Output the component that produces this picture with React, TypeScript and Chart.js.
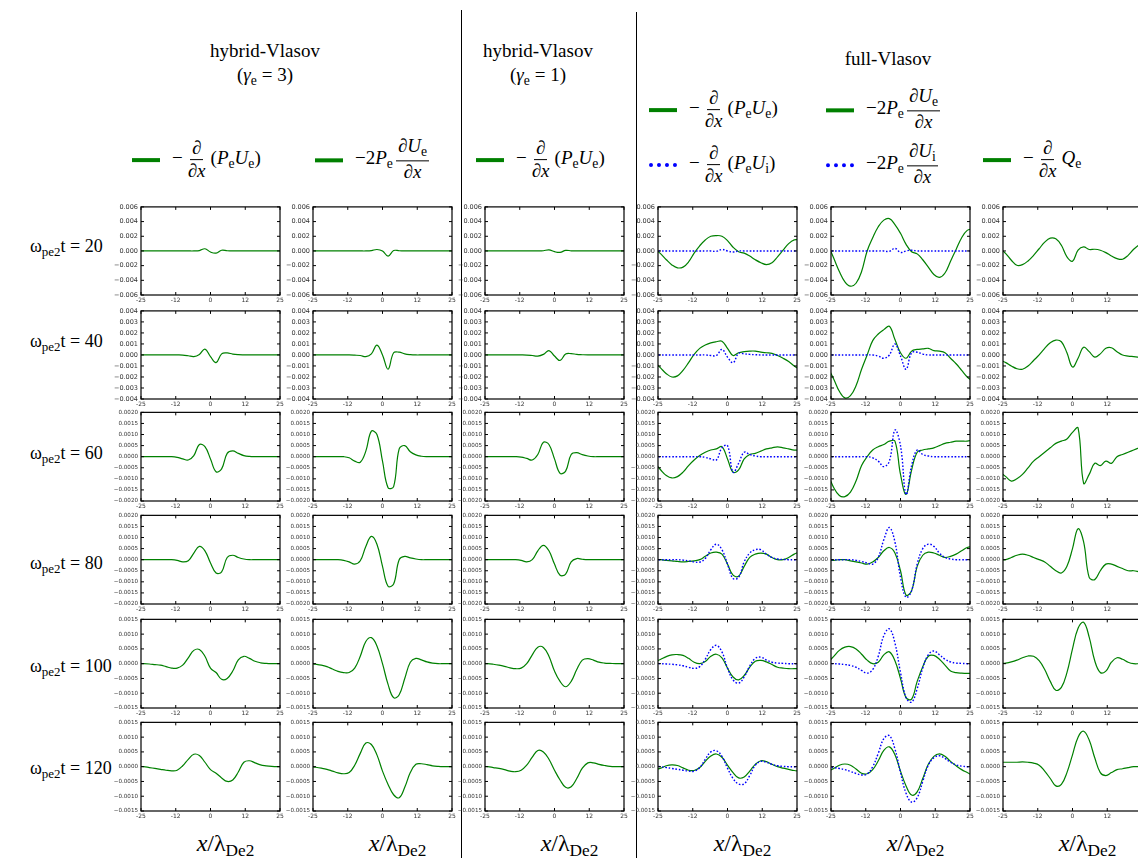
import React, { useEffect, useRef } from "react";
import { Chart, registerables } from "chart.js";

Chart.register(...registerables);

// ---------- data (x in λDe2, values in units of 1e-4) ----------
const X_GRID = [-26,-24,-22,-20,-18,-16,-14,-12,-10,-8,-6,-4,-2,0,2,4,6,8,10,12,14,16,18,20,22,24,26];
const X_TICKS = [-25, -12.5, 0, 12.5, 25];
const X_TICK_LABELS = ["-25", "-12", "0", "12", "25"];
const TIMES = ["20", "40", "60", "80", "100", "120"];
const Y_LIMITS = [60, 40, 20, 20, 15, 15];
const Y_STEPS = [20, 10, 5, 5, 5, 5];
const Y_DECIMALS = [3, 3, 4, 4, 4, 4];

// t = 20
const C1_T20 = [0,0,0,0,0,0,0,0,0,0,0,0.5,3,-1.5,-3,1,0.3,0,0,0,0,0,0,0,0,0,0];
const C2_T20 = [0,0,0,0,0,0,0,0,0,0,0,0.5,2,0,-7,0.5,0.3,0,0,0,0,0,0,0,0,0,0];
const C3_T20 = [0,0,0,0,0,0,0,0,0,0,0,0.3,1.5,-1,-2,0.8,0.2,0,0,0,0,0,0,0,0,0,0];
const C4G_T20 = [2,-4,-12,-19,-23,-22,-15,-3,7,15,20,21,20,14,5,-1,-3,-7,-12,-16,-18.5,-16,-8,1,10,15,15];
const C4B_T20 = [0,0,0,0,0,0,0,0,0,0,0,-0.5,2,0,-1.5,0,0,0,0,0,0,0,0,0,0,0,0];
const C5G_T20 = [8,-10,-28,-42,-48,-44,-28,0,18,33,42,44,36,24,9,-1,-4,-12,-22,-32,-36,-30,-14,2,18,28,30];
const C5B_T20 = [0,0,0,0,0,0,0,0,0,0,0,-0.5,3.5,-2,0,1,0,0,0,0,0,0,0,0,0,0,0];
const C6_T20 = [3,-3.6,-12.7,-19.5,-18.6,-13.6,-6,3,12,17.5,16.5,7.7,-8,-14,1,5.5,2,2.3,1,-2.3,-6.8,-10.4,-11.3,-6,2.3,8.6,13];

// t = 40
const C1_T40 = [0,0,0,0,0,0,0,0,-0.1,-0.7,-1.5,0.5,5.3,-1.5,-7,1,1.8,0.8,0.3,0.1,0,0,0,0,0,0,0];
const C2_T40 = [0,0,0,0,0,0,0,0,-0.2,-0.5,-1.5,1,9,0,-13,2,2.5,1,0.3,0,0,0,0,0,0,0,0];
const C3_T40 = [0,0,0,0,0,0,0,0,-0.1,-0.5,-1,0.5,4,-1,-5,0.8,1.2,0.5,0.2,0,0,0,0,0,0,0,0];
const C4G_T40 = [-7,-12,-17,-20,-19,-14,-7,0.5,6,9,11,12,12.5,6,-0.5,2,3,3.5,3.5,2.5,2,1.5,-0.5,-3,-6,-10,-13];
const C4B_T40 = [0,0,0,0,0,0,0,0,0,0,-0.5,-0.5,5,-2,-7,1.5,1,0.5,0.2,0,0,0,0,0,0,0,0];
const C5G_T40 = [-12,-22,-33,-39,-37,-28,-13,0,13,19,23,26,14,2,-3,3.5,5,5.5,6,4,3.5,2,-3,-8,-14,-20,-24];
const C5B_T40 = [0,0,0,0,0,0,0,0,0,-1,-3,0,10,-1,-13,2,2.5,0.8,0,0,0,0,0,0,0,0,0];
const C6_T40 = [-5,-7,-10,-12.5,-13,-10,-5,0,6,11,13.5,12,2,-11,-3,7,3,-2,1,6,6.5,3,0,-1,-1.5,-2,-2];

// t = 60
const C1_T60 = [0,0,0,0,0,0,0,-0.3,-1,-1.5,0.5,5.5,4.5,-1,-6.8,-5.5,1.5,2.6,1.5,0.5,0.1,0,0,0,0,0,0];
const C2_T60 = [0,0,0,0,0,0,0,-0.5,-2,-2.5,2.5,11.5,10,-2,-14,-13.5,3.5,5,2.2,0.8,0.2,0,0,0,0,0,0];
const C3_T60 = [0,0,0,0,0,0,0,-0.2,-0.8,-1.5,1,6.5,5.5,-1,-7.5,-6.5,1,1.8,0.9,0.3,0,0,0,0,0,0,0];
const C4G_T60 = [-3,-6,-8.5,-9.6,-9,-7,-4,-1.5,0.5,2,3,3.5,4.5,-1,-7,-6,-1,1,1.5,2.5,3.5,4,4.4,4,3.5,3,3];
const C4B_T60 = [0,0,0,0,0,0,0,0,0,-0.3,-1,-1.5,4,5,-7,-3,2,1,0.3,0,0,0,0,0,0,0,0];
const C5G_T60 = [-8,-14,-17.5,-18,-16,-11,-4,0,3,4.5,5.5,7,7,-8,-17,-6,2,3,3.5,4,5,6,6.5,7,7,7,7.5];
const C5B_T60 = [0,0,0,0,0,0,0,0,-0.5,-2,-4.5,-2,12,5,-17,-4,3,1,0.3,0,0,0,0,0,0,0,0];
const C6_T60 = [-7,-9,-11,-10,-8,-5,-2,0,2,4,6,7,8,11,13,-12,-8,-3,-4,-2,-3,0,1,2,3,4,5];

// t = 80
const C1_T80 = [0,0,0,0,0,0,0,-0.3,-1,-0.5,3,6,4,-1.5,-6,-5.5,1,2,1,0.3,0,0,0,0,0,0,0];
const C2_T80 = [0,0,0,0,0,0,-0.3,-1,-2,-0.5,6,10.5,7,-3,-12,-11,0,1.5,0.8,0.3,0,0,0,0,0,0,0];
const C3_T80 = [0,0,0,0,0,0,0,-0.3,-1,0,4,6.5,4,-2,-7,-6.5,-1,0.5,0.2,0,0,0,0,0,0,0,0];
const C4G_T80 = [0,0,-0.3,-0.5,-0.8,-1,-0.8,-0.5,0,1.5,3,3.4,2.5,-2,-7,-7.5,-3,1,2.5,3,2.5,1,0,0,1,2.5,3.5];
const C4B_T80 = [0,0,0,0,0,-0.2,-0.5,-1,-1.1,0.5,4.5,7,4.5,-2,-8.5,-8,-1,3,4.5,4.5,2.5,1,0.3,0.1,0,0,0];
const C5G_T80 = [0,-0.3,0,0,-0.5,-1,-1.5,-2,-1,1,4,5.5,3,-5,-16,-14,-3,2,3.4,3,2,1,1.5,2.5,4,5.5,6];
const C5B_T80 = [0,0,0,0,0,-0.3,-0.8,-1.5,-2,1,9,14.5,8,-8,-17,-14,-2,5,7,6,3,1,0.3,0,0,0,0];
const C6_T80 = [0,0,1,2,2.5,2,1,0,-1,-3,-5,-6,-3,5,14,8,-8,-9,-5,-2,-2,-3,-4,-5,-5,-5.5,-6];

// t = 100
const C1_T100 = [0,0,-0.1,-0.3,-0.5,-1,-1.5,-1.5,-0.5,2,4.5,4.8,2.5,-1.5,-3,-5.3,-5,-2.5,1.3,2.5,1.8,0.8,0.3,0.1,0,0,0];
const C2_T100 = [0,-0.2,-0.5,-1,-1.8,-2.6,-3,-3,-1.5,2.5,7.5,8.8,6,0,-7,-11.5,-10.5,-5,0.5,1.8,1.3,0.6,0.2,0,0,0,0];
const C3_T100 = [0,0,-0.2,-0.5,-0.9,-1.4,-1.7,-1.5,0,3,5.6,5.5,2.5,-2.5,-6,-7.8,-6,-2,1.2,1.7,1.2,0.5,0.2,0.1,0,0,0];
const C4G_T100 = [0.6,1.5,2.4,3,3.1,2.8,1.8,0.5,0,0.7,2.5,3.2,2,-1.5,-4.5,-5.5,-4,-1.2,0.8,1.1,0.6,-0.3,-1.2,-1.5,-1.7,-1.7,-1.7];
const C4B_T100 = [0,0,-0.1,-0.2,-0.4,-0.7,-1.2,-1.6,-1,1.5,4.8,6.2,4,-1.5,-5.5,-6.6,-4.5,-0.8,1.8,2.2,1.2,0.5,0.2,0.1,0,0,0];
const C5G_T100 = [0.5,2.5,4.5,5.6,5.8,5,3.2,1.2,0,0.5,3,4,1,-5,-11.5,-12,-6,-1,2.5,2.8,1.5,-0.5,-2.5,-3,-3.2,-3.3,-3.3];
const C5B_T100 = [0,0,-0.1,-0.3,-0.6,-1.2,-2.3,-3.2,-2,2.5,9.5,11.8,7,-3,-11.5,-13,-8.5,-1.5,3,4.3,3,1.5,0.6,0.2,0.1,0,0];
const C6_T100 = [0,0.2,0.6,1.2,2,2.6,2.5,1,-2,-6,-9,-8,-3,5,12,14,9,1,-3,-2.5,0.5,2,1.5,0.5,0,0,0];

// t = 120
const C1_T120 = [0.1,0,-0.3,-0.6,-0.9,-1.2,-1.4,-1.2,0.3,2.5,4.2,3.8,1.5,-1,-2.2,-3.8,-5,-4.5,-1.8,1.5,2,1.3,0.6,0.3,0.1,0,0];
const C2_T120 = [0,-0.2,-0.5,-0.9,-1.5,-2.1,-2.4,-2,0.5,4.5,8,7.5,4,-1.5,-6,-9.5,-10.5,-7,-2,0.8,1,0.7,0.3,0.1,0,0,0];
const C3_T120 = [0.1,0,-0.3,-0.6,-1,-1.5,-1.7,-1.2,0.5,3.2,5.5,5,2.5,-1.2,-4.5,-7,-6.8,-4,-0.5,1.3,1.3,0.8,0.4,0.1,0,0,0];
const C4G_T120 = [-1,-0.5,0.3,0.6,0.4,-0.4,-1.2,-1.3,-0.3,1.8,3.6,4.3,3.2,0.5,-2,-3.8,-3.5,-1.5,0.8,2,1.7,0.8,0,-0.5,-0.9,-1.3,-1.5];
const C4B_T120 = [0.2,0,-0.3,-0.6,-0.9,-1.2,-1.5,-1.5,-0.3,2.5,5,5.4,3.5,-0.5,-4,-5.9,-5.8,-3,0.5,1.8,1.5,0.8,0.3,0.1,0,0,0];
const C5G_T120 = [-1.5,-0.6,0.5,0.9,0.5,-0.8,-2.2,-2.4,-1,2,5.5,6.7,4,-1.5,-6.5,-9.6,-8.5,-4,0.8,3.5,4.3,3.5,1.8,0.3,-1,-2,-3];
const C5B_T120 = [0,-0.3,-0.6,-1,-1.6,-2.3,-2.8,-2.5,0,4.5,9.5,10.5,6,-2,-9,-12,-10.5,-5,0.5,3,3.7,2.8,1.5,0.6,0.2,0,0];
const C6_T120 = [1.5,1.5,1.5,1.5,1.6,1.5,1.2,0.5,-1.5,-4,-6.5,-6,-2,4,10,12,9,3,-2,-3,-2,-1,-0.7,-0.3,0,0,0];

// columns x rows: [green, blue?]
const PANELS: (number[] | null)[][][] = [
  [[C1_T20, null], [C1_T40, null], [C1_T60, null], [C1_T80, null], [C1_T100, null], [C1_T120, null]],
  [[C2_T20, null], [C2_T40, null], [C2_T60, null], [C2_T80, null], [C2_T100, null], [C2_T120, null]],
  [[C3_T20, null], [C3_T40, null], [C3_T60, null], [C3_T80, null], [C3_T100, null], [C3_T120, null]],
  [[C4G_T20, C4B_T20], [C4G_T40, C4B_T40], [C4G_T60, C4B_T60], [C4G_T80, C4B_T80], [C4G_T100, C4B_T100], [C4G_T120, C4B_T120]],
  [[C5G_T20, C5B_T20], [C5G_T40, C5B_T40], [C5G_T60, C5B_T60], [C5G_T80, C5B_T80], [C5G_T100, C5B_T100], [C5G_T120, C5B_T120]],
  [[C6_T20, null], [C6_T40, null], [C6_T60, null], [C6_T80, null], [C6_T100, null], [C6_T120, null]],
];

// ---------- layout ----------
const COL_LEFT = [141, 313, 485, 658, 831, 1003];
const ROW_TOP = [206, 310, 412, 515, 619, 722];
const BOX_W = 139;
const BOX_H = 89;
const PAD_L = 44;
const PAD_T = 6;
const PAD_R = 8;
const PAD_B = 12;
const ROW_LABEL_Y = [248, 343, 455, 565, 668, 770];

const GREEN = "#008000";
const BLUE = "#0000ff";
const SERIF = "'Liberation Serif', 'Times New Roman', serif";

const boxPlugin = {
  id: "boxTicks",
  afterDraw(chart: any) {
    const { ctx, chartArea } = chart;
    const { left, top, right, bottom } = chartArea;
    const xs = chart.scales.x;
    const ys = chart.scales.y;
    ctx.save();
    ctx.strokeStyle = "#000";
    ctx.lineWidth = 1.2;
    ctx.strokeRect(left, top, right - left, bottom - top);
    ctx.lineWidth = 1;
    ctx.beginPath();
    xs.ticks.forEach((t: any) => {
      const px = xs.getPixelForValue(t.value);
      ctx.moveTo(px, bottom);
      ctx.lineTo(px, bottom - 3);
      ctx.moveTo(px, top);
      ctx.lineTo(px, top + 3);
    });
    ys.ticks.forEach((t: any) => {
      const py = ys.getPixelForValue(t.value);
      ctx.moveTo(left, py);
      ctx.lineTo(left + 3, py);
      ctx.moveTo(right, py);
      ctx.lineTo(right - 3, py);
    });
    ctx.stroke();
    ctx.restore();
  },
};

function Panel({ col, row }: { col: number; row: number }) {
  const ref = useRef<HTMLCanvasElement | null>(null);
  const [green, blue] = PANELS[col][row];
  const W = PAD_L + BOX_W + PAD_R;
  const H = PAD_T + BOX_H + PAD_B;
  useEffect(() => {
    const datasets: any[] = [];
    if (blue) {
      datasets.push({
        data: X_GRID.map((x, i) => ({ x, y: blue[i] })),
        borderColor: BLUE,
        borderWidth: 1.4,
        borderDash: [1.6, 1.8],
        pointRadius: 0,
        tension: 0.4,
        fill: false,
      });
    }
    datasets.push({
      data: X_GRID.map((x, i) => ({ x, y: (green as number[])[i] })),
      borderColor: GREEN,
      borderWidth: 1.2,
      pointRadius: 0,
      tension: 0.4,
      fill: false,
    });
    const lim = Y_LIMITS[row];
    const dec = Y_DECIMALS[row];
    const chart = new Chart(ref.current as HTMLCanvasElement, {
      type: "line",
      data: { datasets },
      options: {
        responsive: false,
        animation: false,
        devicePixelRatio: 1,
        layout: { padding: { left: 0, right: PAD_R, top: PAD_T, bottom: 0 } },
        plugins: { legend: { display: false }, tooltip: { enabled: false } },
        scales: {
          x: {
            type: "linear",
            min: -25,
            max: 25,
            afterBuildTicks: (s: any) => {
              s.ticks = X_TICKS.map((v) => ({ value: v }));
            },
            afterFit: (s: any) => {
              s.height = PAD_B;
            },
            grid: { display: false, drawTicks: false },
            border: { display: false },
            ticks: {
              autoSkip: false,
              maxRotation: 0,
              padding: 2,
              color: "#333",
              font: { size: 6, family: "'DejaVu Sans', sans-serif" },
              callback: (_v: any, i: number) => X_TICK_LABELS[i],
            },
          },
          y: {
            type: "linear",
            min: -lim,
            max: lim,
            afterFit: (s: any) => {
              s.width = PAD_L;
            },
            grid: { display: false, drawTicks: false },
            border: { display: false },
            ticks: {
              stepSize: Y_STEPS[row],
              padding: 3,
              color: "#333",
              font: { size: dec === 3 ? 6.5 : 5.6, family: "'DejaVu Sans', sans-serif" },
              callback: (v: any) => (Number(v) * 1e-4).toFixed(dec).replace("-", "\u2212"),
            },
          },
        },
      } as any,
      plugins: [boxPlugin],
    });
    return () => chart.destroy();
  }, []);
  return (
    <canvas
      ref={ref}
      width={W}
      height={H}
      style={{ position: "absolute", left: COL_LEFT[col] - PAD_L, top: ROW_TOP[row] - PAD_T, width: W, height: H }}
    />
  );
}

const It = ({ children }: any) => <span style={{ fontStyle: "italic" }}>{children}</span>;
const Sub = ({ children }: any) => (
  <span style={{ fontSize: "0.72em", verticalAlign: "-0.3em", fontStyle: "normal" }}>{children}</span>
);
const Frac = ({ num, den }: any) => (
  <span
    style={{
      display: "inline-flex",
      flexDirection: "column",
      alignItems: "center",
      verticalAlign: "middle",
      margin: "0 3px",
    }}
  >
    <span style={{ borderBottom: "1.3px solid #000", padding: "0 2px 1px", lineHeight: 1.05 }}>{num}</span>
    <span style={{ lineHeight: 1.15, padding: "0 2px" }}>{den}</span>
  </span>
);

const DX = (
  <>
    ∂<It>x</It>
  </>
);
const divFlux = (s: string) => (
  <>
    −<Frac num="∂" den={DX} />(<It>P</It>
    <Sub>e</Sub>
    <It>U</It>
    <Sub>{s}</Sub>)
  </>
);
const compress = (s: string) => (
  <>
    −2<It>P</It>
    <Sub>e</Sub>
    <Frac
      num={
        <>
          ∂<It>U</It>
          <Sub>{s}</Sub>
        </>
      }
      den={DX}
    />
  </>
);
const heatFlux = (
  <>
    −<Frac num="∂" den={DX} />
    <It>Q</It>
    <Sub>e</Sub>
  </>
);

function LegendItem({ x, y, color, dotted, children }: any) {
  return (
    <div
      style={{
        position: "absolute",
        left: x,
        top: y,
        transform: "translateY(-50%)",
        display: "flex",
        alignItems: "center",
        whiteSpace: "nowrap",
        fontFamily: SERIF,
        fontSize: 19,
      }}
    >
      <span
        style={{
          display: "inline-block",
          width: 28,
          height: 0,
          borderTop: dotted ? `4px dotted ${color}` : `4px solid ${color}`,
          marginRight: 12,
        }}
      />
      <span>{children}</span>
    </div>
  );
}

function Centered({ x, y, size, children }: any) {
  return (
    <div
      style={{
        position: "absolute",
        left: x,
        top: y,
        transform: "translate(-50%, -50%)",
        whiteSpace: "nowrap",
        fontFamily: SERIF,
        fontSize: size,
        lineHeight: 1,
      }}
    >
      {children}
    </div>
  );
}

export default function App() {
  const panels: any[] = [];
  for (let c = 0; c < 6; c++) for (let r = 0; r < 6; r++) panels.push(<Panel key={`${c}-${r}`} col={c} row={r} />);
  return (
    <div
      style={{
        position: "absolute",
        left: 0,
        top: 0,
        width: 1138,
        height: 858,
        overflow: "hidden",
        background: "#fff",
        color: "#000",
      }}
    >
      {/* headers */}
      <Centered x={265} y={50} size={19}>hybrid-Vlasov</Centered>
      <Centered x={265} y={76} size={19}>
        (<It>γ</It>
        <Sub>e</Sub> = 3)
      </Centered>
      <Centered x={538} y={50} size={19}>hybrid-Vlasov</Centered>
      <Centered x={538} y={76} size={19}>
        (<It>γ</It>
        <Sub>e</Sub> = 1)
      </Centered>
      <Centered x={888} y={58} size={19}>full-Vlasov</Centered>

      {/* legends */}
      <LegendItem x={132} y={160} color={GREEN}>{divFlux("e")}</LegendItem>
      <LegendItem x={315} y={160} color={GREEN}>{compress("e")}</LegendItem>
      <LegendItem x={476} y={160} color={GREEN}>{divFlux("e")}</LegendItem>
      <LegendItem x={649} y={110} color={GREEN}>{divFlux("e")}</LegendItem>
      <LegendItem x={826} y={110} color={GREEN}>{compress("e")}</LegendItem>
      <LegendItem x={649} y={165} color={BLUE} dotted>{divFlux("i")}</LegendItem>
      <LegendItem x={826} y={165} color={BLUE} dotted>{compress("i")}</LegendItem>
      <LegendItem x={983} y={160} color={GREEN}>{heatFlux}</LegendItem>

      {/* separators */}
      <div style={{ position: "absolute", left: 461, top: 10, width: 1.3, height: 848, background: "#000" }} />
      <div style={{ position: "absolute", left: 636, top: 12, width: 1.3, height: 846, background: "#000" }} />

      {/* row labels */}
      {TIMES.map((t, r) => (
        <div
          key={t}
          style={{
            position: "absolute",
            left: 30,
            top: ROW_LABEL_Y[r],
            transform: "translateY(-50%)",
            fontFamily: SERIF,
            fontSize: 18,
            whiteSpace: "nowrap",
            lineHeight: 1,
          }}
        >
          ω<Sub>pe2</Sub>t = {t}
        </div>
      ))}

      {/* x-axis titles */}
      {COL_LEFT.map((l, c) => (
        <Centered key={c} x={l + BOX_W / 2 + 15} y={845} size={24}>
          <It>x</It>/λ<Sub>De2</Sub>
        </Centered>
      ))}

      {panels}
    </div>
  );
}
